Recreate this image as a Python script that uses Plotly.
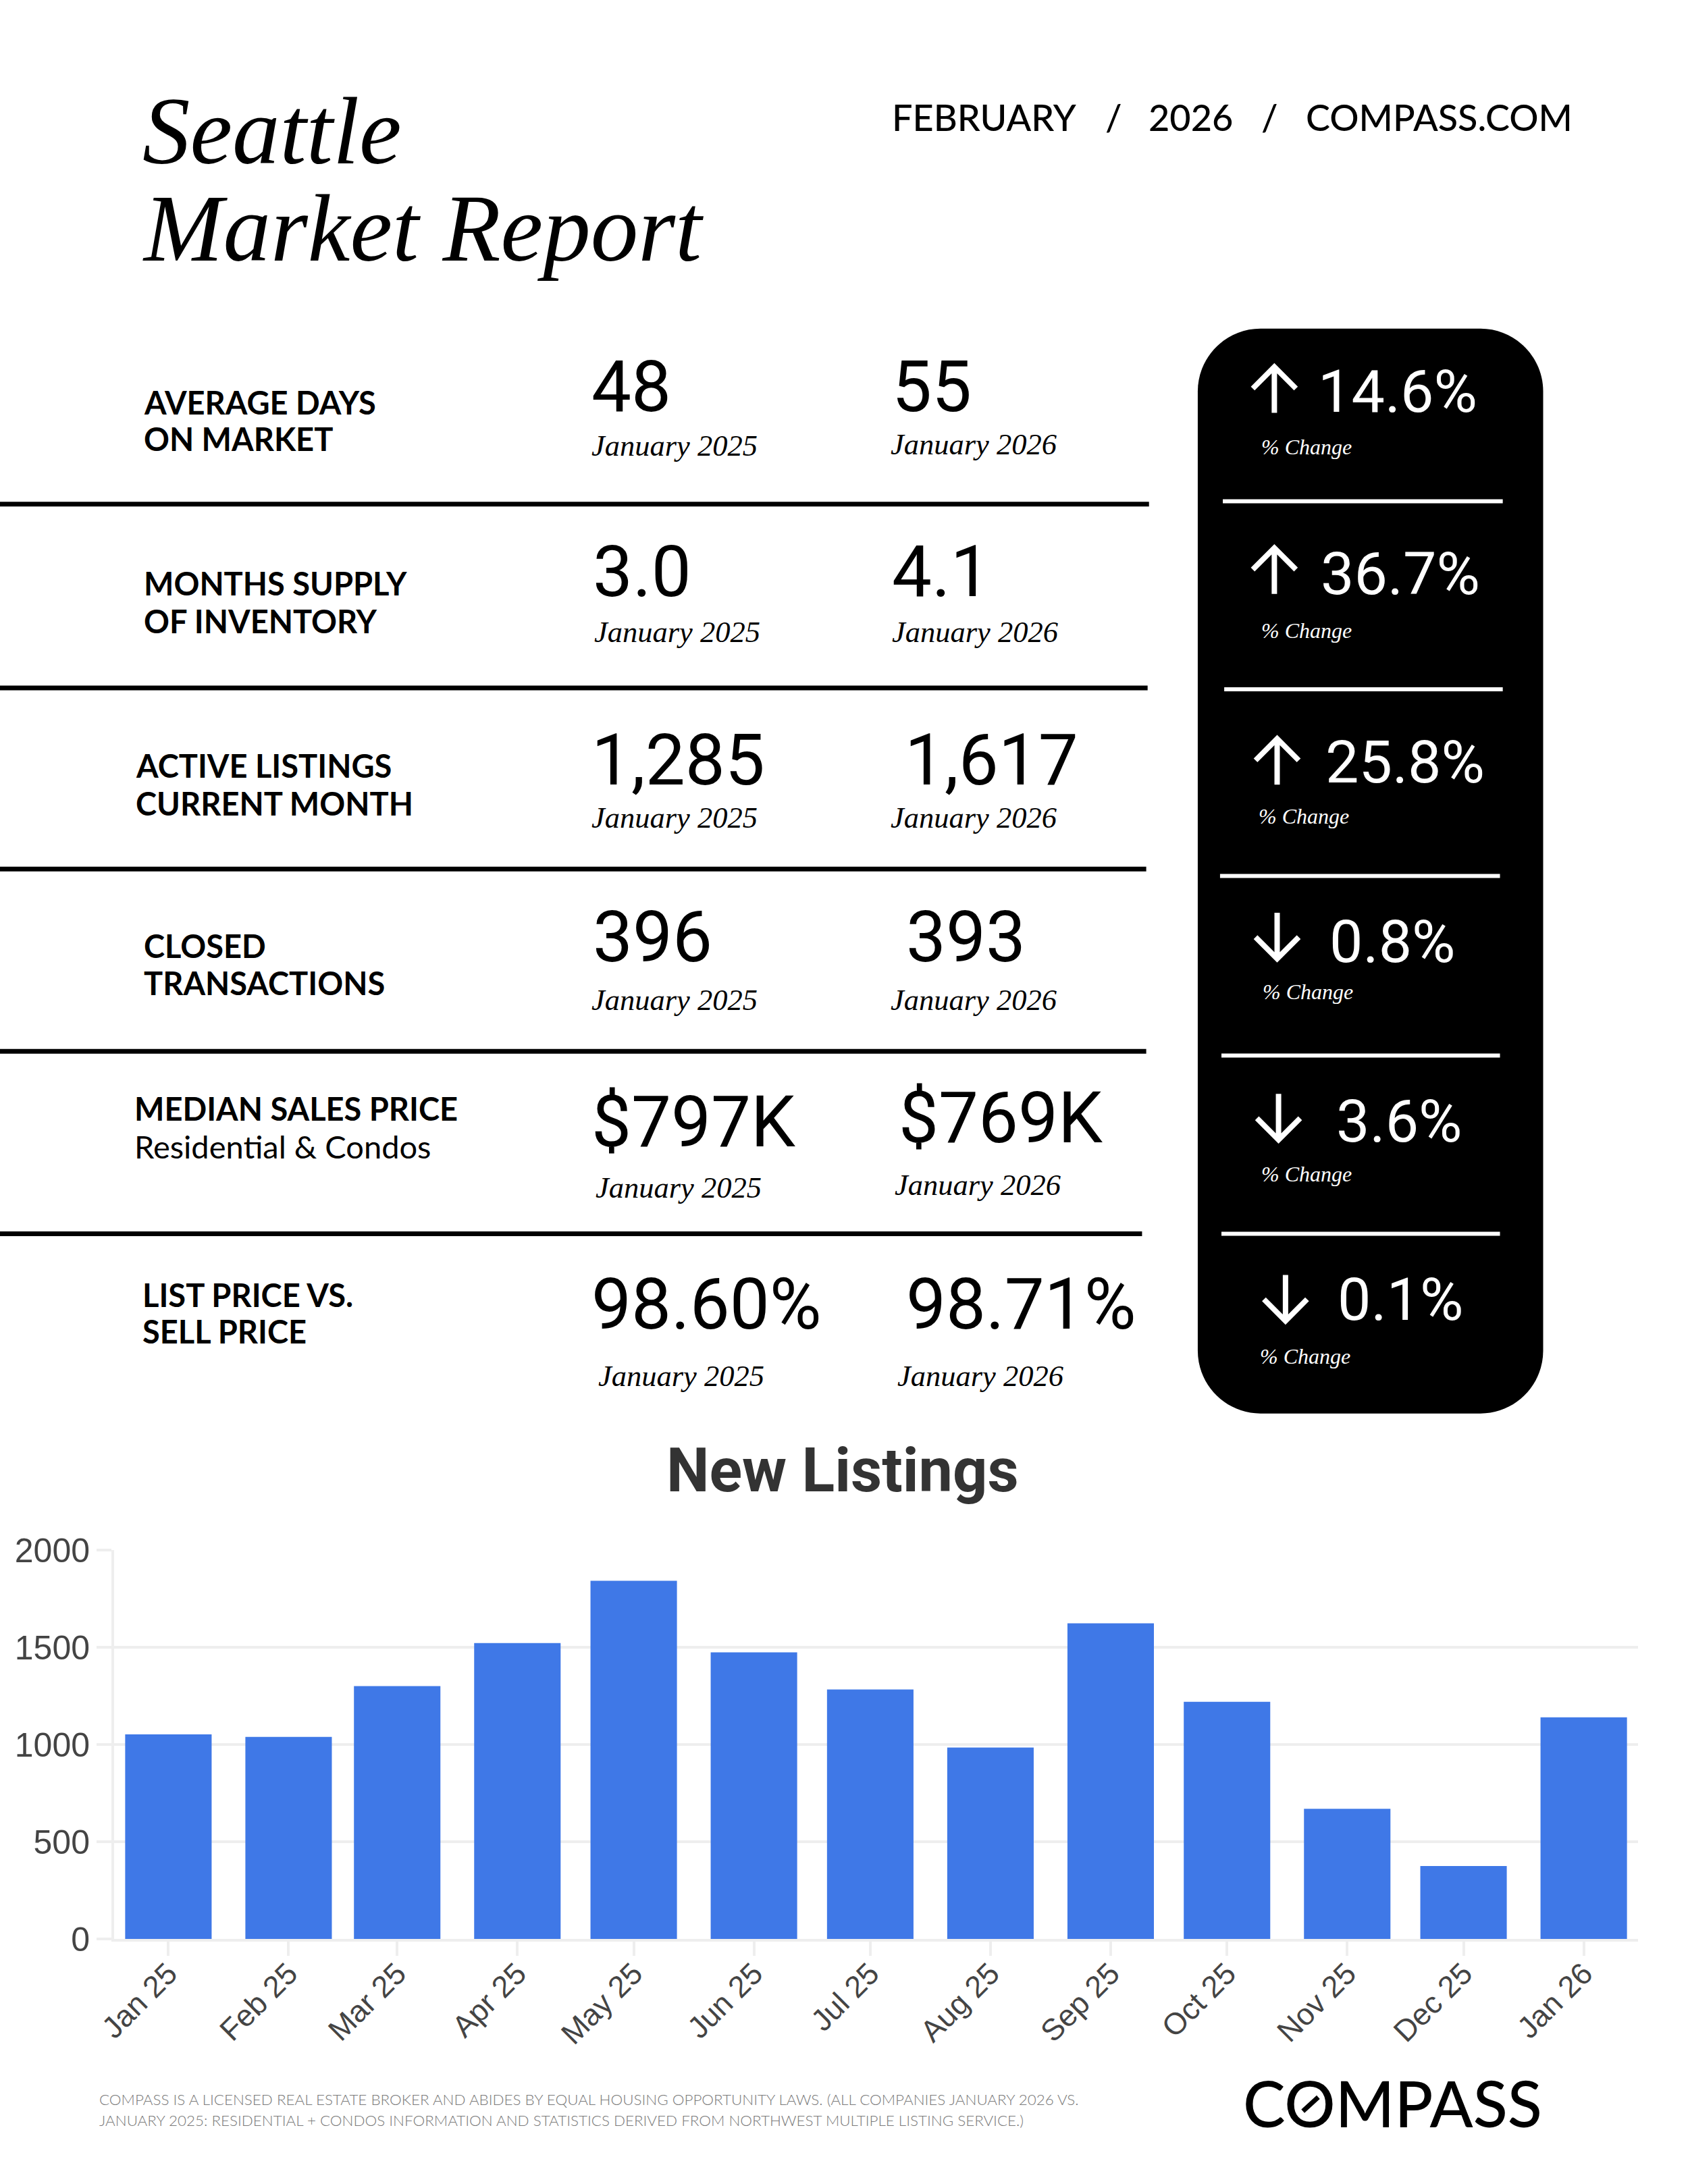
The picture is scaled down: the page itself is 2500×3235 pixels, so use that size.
import plotly.graph_objects as go

# ---------- data ----------
months = ["2025-01-01","2025-02-01","2025-03-01","2025-04-01","2025-05-01","2025-06-01","2025-07-01",
          "2025-08-01","2025-09-01","2025-10-01","2025-11-01","2025-12-01","2026-01-01"]
month_labels = ["Jan 25","Feb 25","Mar 25","Apr 25","May 25","Jun 25","Jul 25","Aug 25","Sep 25","Oct 25","Nov 25","Dec 25","Jan 26"]
new_listings = [1052,1039,1300,1522,1842,1474,1283,984,1623,1220,669,375,1140]

row_labels = [["AVERAGE DAYS","ON MARKET"],["MONTHS SUPPLY","OF INVENTORY"],["ACTIVE LISTINGS","CURRENT MONTH"],
              ["CLOSED","TRANSACTIONS"],["MEDIAN SALES PRICE","Residential & Condos"],["LIST PRICE VS.","SELL PRICE"]]
values_2025 = ["48","3.0","1,285","396","$797K","98.60%"]
values_2026 = ["55","4.1","1,617","393","$769K","98.71%"]
changes = ["14.6%","36.7%","25.8%","0.8%","3.6%","0.1%"]
directions = [1,1,1,-1,-1,-1]
footer_lines = ["COMPASS IS A LICENSED REAL ESTATE BROKER AND ABIDES BY EQUAL HOUSING OPPORTUNITY LAWS. (ALL COMPANIES JANUARY 2026 VS.",
                "JANUARY 2025: RESIDENTIAL + CONDOS INFORMATION AND STATISTICS DERIVED FROM NORTHWEST MULTIPLE LISTING SERVICE.)"]

# ---------- layout geometry (page units of a 1212 wide sheet) ----------
W, H = 2500, 3235
P = W / 1212
label_x = [103,103,97,103,96,102]
label_y = [(289,315),(419,446),(550,577),(679,706),(796,823),(930,956)]
val1_xy = [(424,278),(425,411),(424,546),(425,673),(424,806),(424,937)]
val2_xy = [(640,278),(640,411),(649,546),(650,673),(645,803),(650,937)]
date1_xy = [(424,320),(426,454),(424,587),(424,718),(427,853),(429,988)]
date2_xy = [(639,319),(640,454),(639,587),(639,718),(642,851),(644,988)]
dividers = [(362,825),(494,824),(624,823),(755,823),(886,820)]
panel_lines = [(360,878,1079),(495,879,1079),(629,876,1077),(758,877,1077),(886,877,1077)]
arrow_xy = [(915,280),(915,410),(917,547),(917,672),(918,802),(923,932)]
pct_xy = [(946,281),(948,412),(951,547),(954,676),(959,805),(960,933)]
chg_xy = [(905,321),(905,453),(903,586),(906,712),(905,843),(904,974)]

SANS = "Lato"
NUM = "Roboto"
SERIF = "Liberation Serif"

def fx(x): return x * P / W
def fy(y): return 1 - y * P / H

ann, shp = [], []
def text(x, y, s, size, color="#000", family=SANS, weight=400, style="normal", anchor="left"):
    ann.append(dict(x=fx(x), y=fy(y), xref="paper", yref="paper", text=s, showarrow=False,
                    xanchor=anchor, yanchor="middle", borderpad=0, align="left",
                    font=dict(size=size, color=color, family=family, weight=weight, style=style)))
def line(x0, y0, x1, y1, width, color):
    shp.append(dict(type="line", xref="paper", yref="paper", x0=fx(x0), y0=fy(y0), x1=fx(x1), y1=fy(y1),
                    line=dict(color=color, width=width)))

# title
text(102, 94, "Seattle", 141, family=SERIF, style="italic")
text(102, 164, "Market Report", 141, family=SERIF, style="italic")

# header
for x, s in [(640,"FEBRUARY"),(793,"/"),(824,"2026"),(905,"/"),(937,"COMPASS.COM")]:
    text(x, 84, s, 54, family=SANS, weight=500)

# panel
L, R, T, B, r = 860, 1108, 236, 1015, 45
k = 0.45 * r
panel = (f"M {fx(L+r)} {fy(T)} L {fx(R-r)} {fy(T)} C {fx(R-k)} {fy(T)} {fx(R)} {fy(T+k)} {fx(R)} {fy(T+r)} "
         f"L {fx(R)} {fy(B-r)} C {fx(R)} {fy(B-k)} {fx(R-k)} {fy(B)} {fx(R-r)} {fy(B)} "
         f"L {fx(L+r)} {fy(B)} C {fx(L+k)} {fy(B)} {fx(L)} {fy(B-k)} {fx(L)} {fy(B-r)} "
         f"L {fx(L)} {fy(T+r)} C {fx(L)} {fy(T+k)} {fx(L+k)} {fy(T)} {fx(L+r)} {fy(T)} Z")
shp.append(dict(type="path", xref="paper", yref="paper", path=panel, fillcolor="#000", line=dict(width=0)))

for y, x0 in dividers:
    line(0, y, x0, y, 7, "#000")
for y, x0, x1 in panel_lines:
    line(x0, y, x1, y, 6, "#fff")

for i in range(6):
    for j, s in enumerate(row_labels[i]):
        light = s.startswith("Residential")
        text(label_x[i], label_y[i][j], s, 47, weight=400 if light else 700)
    for xy, s in ((val1_xy[i], values_2025[i]), (val2_xy[i], values_2026[i])):
        text(xy[0], xy[1], s, 105, family=NUM, weight=400)
    text(*date1_xy[i], "January 2025", 44.5, family=SERIF, style="italic")
    text(*date2_xy[i], "January 2026", 44.5, family=SERIF, style="italic")
    text(*pct_xy[i], changes[i], 88, color="#fff", family=NUM, weight=400)
    text(*chg_xy[i], "% Change", 32, color="#fff", family=SERIF, style="italic")
    # arrow
    ax, ay = arrow_xy[i]; d = directions[i]
    h, w = 16.5, 15.5
    shp.append(dict(type="path", xref="paper", yref="paper",
                    path=f"M {fx(ax)} {fy(ay+d*h)} L {fx(ax)} {fy(ay-d*h)} "
                         f"M {fx(ax-w)} {fy(ay-d*(h-15.5))} L {fx(ax)} {fy(ay-d*h)} L {fx(ax+w)} {fy(ay-d*(h-15.5))}",
                    line=dict(color="#fff", width=8)))

# chart title
text(605, 1056, "New Listings", 90, color="#333", family="Roboto", weight=700, anchor="center")

# footer
text(71, 1507.5, footer_lines[0], 22.4, color="#7a7a7a", weight=300)
text(71, 1522.5, footer_lines[1], 22.4, color="#7a7a7a", weight=300)

# logo
text(1000, 1510, "COMPASS", 94, weight=500, anchor="center")
line(935.5, 1516, 946.5, 1506, 7, "#000")

GRID = "#eeeeee"
fig = go.Figure(go.Bar(x=months, y=new_listings, width=22.3*86400000,
                       marker=dict(color="#3f78e7", line=dict(width=0))))
fig.update_layout(
    width=W, height=H, margin=dict(l=0,r=0,t=0,b=0,autoexpand=False), autosize=False,
    paper_bgcolor="#fff", plot_bgcolor="#fff", showlegend=False,
    annotations=ann, shapes=shp,
    xaxis=dict(domain=[169/W, 2426/W], type="date", range=["2024-12-18","2026-01-15"],
               tickmode="array", tickvals=months, ticktext=month_labels, tickangle=-45,
               tickfont=dict(size=45, family="Liberation Sans", color="#444"), ticklabelstandoff=-18,
               ticks="outside", ticklen=21, tickwidth=4, tickcolor=GRID, showgrid=False,
               showline=True, linecolor=GRID, linewidth=4, zeroline=False),
    yaxis=dict(domain=[1-2872/H, 1-2296/H], range=[0,2000], tickmode="array", tickvals=[0,500,1000,1500,2000],
               tickfont=dict(size=50, family="Liberation Sans", color="#444"),
               ticks="outside", ticklen=22, tickwidth=4, tickcolor=GRID, gridcolor=GRID, gridwidth=4,
               showline=True, linecolor=GRID, linewidth=4, zeroline=False),
)
fig.write_html("out.html", config={"displayModeBar": False},
               post_script="document.body.style.margin='0';window.dispatchEvent(new Event('resize'));")
